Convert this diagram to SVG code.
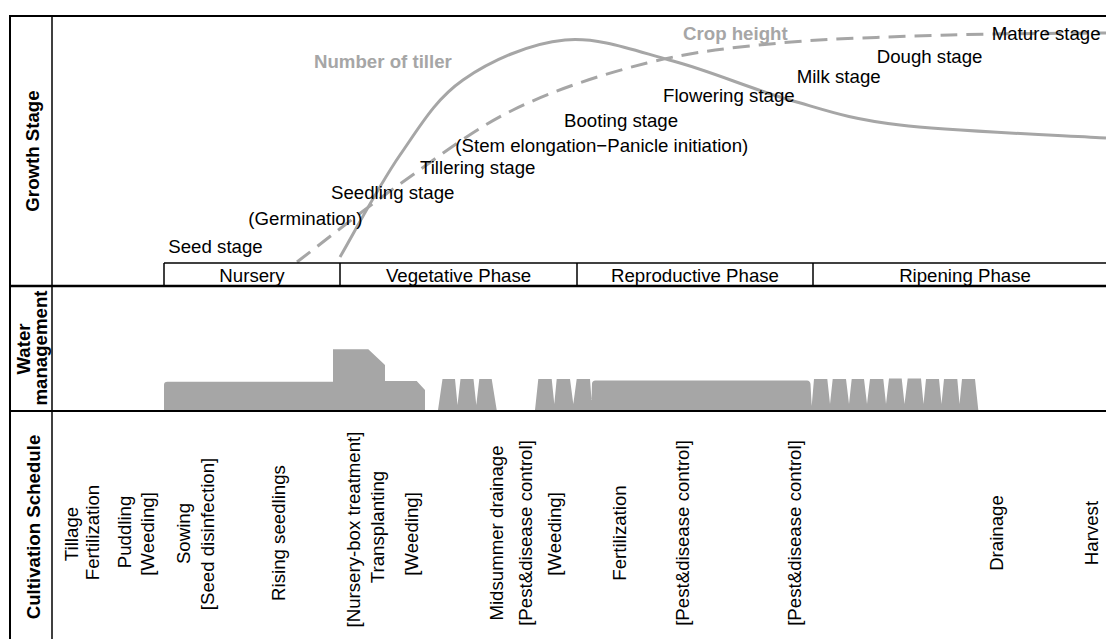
<svg xmlns="http://www.w3.org/2000/svg" width="1106" height="639" viewBox="0 0 1106 639">
<style>
text{font-family:"Liberation Sans",Arial,sans-serif;font-size:18.67px;fill:#000}
.b{font-weight:bold}
.g{fill:#a6a6a6;font-weight:bold}
.mid{text-anchor:middle}
.frame{stroke:#000;fill:none}
.curve{fill:none;stroke:#a6a6a6;stroke-width:3}
.dash{stroke-dasharray:17 9}
.water{fill:#a6a6a6}
</style>
<rect width="1106" height="639" fill="#fff"/>
<g id="frame">
<line class="frame" x1="10" y1="16" x2="1106" y2="16" stroke-width="2"/>
<line class="frame" x1="10" y1="15" x2="10" y2="639" stroke-width="2"/>
<line class="frame" x1="52" y1="16" x2="52" y2="639" stroke-width="1.5"/>
<line class="frame" x1="10" y1="286" x2="1106" y2="286" stroke-width="2.5"/>
<line class="frame" x1="10" y1="411" x2="1106" y2="411" stroke-width="2"/>
</g>
<g id="section-labels">
<text class="b mid" transform="translate(39,151) rotate(-90)">Growth Stage</text>
<text class="b mid" transform="translate(29.5,349) rotate(-90)">Water</text>
<text class="b mid" transform="translate(46.5,348) rotate(-90)">management</text>
<text class="b mid" transform="translate(40,527) rotate(-90)">Cultivation Schedule</text>
</g>
<g id="curves">
<path id="crop-height" class="curve dash" d="M297,262 C314.2,249 364,209.3 400,184 C436,158.7 471.8,130.2 513,110 C554.2,89.8 602.5,74.2 647,63 C691.5,51.8 729.5,47.7 780,43 C830.5,38.3 895.7,36.7 950,35 C1004.3,33.3 1080,33.3 1106,33"/>
<path id="tiller" class="curve" d="M340,257 C350,240 379.5,184.5 400,155 C420.5,125.5 435.5,99.2 463,80 C490.5,60.8 530,43.2 565,40 C600,36.8 635.5,51 673,61 C710.5,71 752.2,89.3 790,100 C827.8,110.7 847.3,118.7 900,125 C952.7,131.3 1071.7,135.8 1106,138"/>
</g>
<g id="curve-labels">
<text class="g" x="314" y="67.5">Number of tiller</text>
<text class="g" x="683" y="39.5">Crop height</text>
</g>
<g id="stages">
<text x="168.3" y="252.5">Seed stage</text>
<text x="248.3" y="225">(Germination)</text>
<text x="331" y="199">Seedling stage</text>
<text x="420" y="174">Tillering stage</text>
<text x="455.3" y="151.5">(Stem elongation−Panicle initiation)</text>
<text x="564" y="126.7">Booting stage</text>
<text x="663" y="101.5">Flowering stage</text>
<text x="796.7" y="83.3">Milk stage</text>
<text x="876.7" y="63.3">Dough stage</text>
<text x="991.7" y="39.7">Mature stage</text>
</g>
<g id="phases">
<line class="frame" x1="164" y1="263" x2="1106" y2="263" stroke-width="1.3"/>
<line class="frame" x1="164" y1="263" x2="164" y2="286" stroke-width="1.5"/>
<line class="frame" x1="340" y1="263" x2="340" y2="286" stroke-width="1.5"/>
<line class="frame" x1="577" y1="263" x2="577" y2="286" stroke-width="1.5"/>
<line class="frame" x1="813" y1="263" x2="813" y2="286" stroke-width="1.5"/>
<text class="mid" x="252" y="282">Nursery</text>
<text class="mid" x="458.5" y="282">Vegetative Phase</text>
<text class="mid" x="695" y="282">Reproductive Phase</text>
<text class="mid" x="965" y="282">Ripening Phase</text>
</g>
<g id="water-management">
<path class="water" d="M164,410 L164,385 Q164,381.7 167.5,381.7 L333,381.7 L333,349.3 L368.3,349.3 L385,365 L385,381 L416.7,381 L425,390 L425,410 Z"/>
<path class="water" d="M438,410 L442.5,379 L455,379 L457.5,405 L460.5,379 L473.5,379 L476.3,405 L479.3,379 L491.7,379 L496.7,410 Z"/>
<path class="water" d="M535,410 L538.3,379 L551.7,379 L554.3,404 L556.7,379 L570,379 L573.3,404 L576.7,379 L590,379 L591.5,400 L592,384 Q592,380.5 595.5,380.5 L807,380.5 Q810,380.5 810.5,384 L811.7,406 L814,379 L827.3,379 L830,404 L832.7,379 L846,379 L849,404 L851.7,379 L864,379 L867,404 L870,379 L883.3,379 L886,404 L889,378.5 L901.7,378.5 L904.5,404 L907.7,378.5 L921,378.5 L923.5,404 L926,379 L939,379 L941.5,404 L944,379 L957.3,379 L959.5,404 L962,379 L975,379 L978.3,410 Z"/>
</g>
<g id="cultivation-schedule">
<text class="mid" transform="translate(78,534) rotate(-90)">Tillage</text>
<text class="mid" transform="translate(99,532.5) rotate(-90)">Fertilization</text>
<text class="mid" transform="translate(131,532) rotate(-90)">Puddling</text>
<text class="mid" transform="translate(154,534) rotate(-90)">[Weeding]</text>
<text class="mid" transform="translate(190,533.5) rotate(-90)">Sowing</text>
<text class="mid" transform="translate(214,534) rotate(-90)">[Seed disinfection]</text>
<text class="mid" transform="translate(285,533) rotate(-90)">Rising seedlings</text>
<text class="mid" transform="translate(360,529.5) rotate(-90)">[Nursery-box treatment]</text>
<text class="mid" transform="translate(384,527) rotate(-90)">Transplanting</text>
<text class="mid" transform="translate(418,534) rotate(-90)">[Weeding]</text>
<text class="mid" transform="translate(503,533) rotate(-90)">Midsummer drainage</text>
<text class="mid" transform="translate(532,533) rotate(-90)">[Pest&amp;disease control]</text>
<text class="mid" transform="translate(561,534) rotate(-90)">[Weeding]</text>
<text class="mid" transform="translate(626,533) rotate(-90)">Fertilization</text>
<text class="mid" transform="translate(689,533) rotate(-90)">[Pest&amp;disease control]</text>
<text class="mid" transform="translate(801,533) rotate(-90)">[Pest&amp;disease control]</text>
<text class="mid" transform="translate(1003,533) rotate(-90)">Drainage</text>
<text class="mid" transform="translate(1098,533) rotate(-90)">Harvest</text>
</g>
</svg>
